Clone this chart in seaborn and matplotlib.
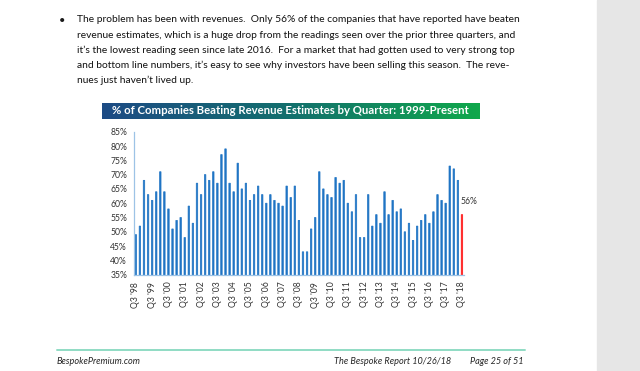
import matplotlib
matplotlib.use("Agg")
import matplotlib.pyplot as plt
import seaborn as sns
import pandas as pd
import numpy as np
from matplotlib.colors import LinearSegmentedColormap
from matplotlib.lines import Line2D
from matplotlib.patches import Rectangle

# % of companies beating revenue estimates, one bar per quarter Q3 '98 .. Q3 '18
beat_pct = [49, 52, 68, 63, 61, 64, 71, 64, 58, 51,
            54, 55, 48, 59, 53, 67, 63, 70, 68, 71,
            67, 77, 79, 67, 64, 74, 65, 67, 61, 63,
            66, 63, 60, 63, 61, 60, 59, 66, 62, 66,
            54, 43, 43, 51, 55, 71, 65, 63, 62, 69,
            67, 68, 60, 57, 63, 48, 48, 63, 52, 56,
            53, 64, 56, 61, 57, 58, 50, 53, 47, 52,
            54, 56, 53, 57, 63, 61, 60, 73, 72, 68,
            56]
tick_labels = ["Q3 '98", "Q3 '99", "Q3 '00", "Q3 '01", "Q3 '02", "Q3 '03", "Q3 '04",
               "Q3 '05", "Q3 '06", "Q3 '07", "Q3 '08", "Q3 '09", "Q3 '10", "Q3 '11",
               "Q3 '12", "Q3 '13", "Q3 '14", "Q3 '15", "Q3 '16", "Q3 '17", "Q3 '18"]

paragraph = [
    "The problem has been with revenues.  Only 56% of the companies that have reported have beaten",
    "revenue estimates, which is a huge drop from the readings seen over the prior three quarters, and",
    "it\u2019s the lowest reading seen since late 2016.  For a market that had gotten used to very strong top",
    "and bottom line numbers, it\u2019s easy to see why investors have been selling this season.  The reve-",
    "nues just haven\u2019t lived up.",
]

sns.set_style("white")
plt.rcParams['font.family'] = ['Lato', 'DejaVu Sans']

W, H = 640, 371
fig = plt.figure(figsize=(6.4, 3.71), dpi=100)
fig.patch.set_facecolor("white")


def fx(x):
    return x / W


def fy(y):
    return 1 - y / H


# grey margin on the right
fig.patches.append(Rectangle((fx(597), 0), 1 - fx(597), 1, transform=fig.transFigure,
                             color="#e6e6e6", zorder=0))

# paragraph text
fig.text(fx(62), fy(20), "\u2022", fontsize=8, color="#1a1a1a", va="center", ha="center")
for i, line in enumerate(paragraph):
    fig.text(fx(77), fy(20 + 15 * i), line, fontsize=7.4, color="#111111", va="center")

# title banner with a blue -> green gradient
bax = fig.add_axes([fx(102), fy(119), fx(479) - fx(102), (119 - 103) / H])
cmap = LinearSegmentedColormap.from_list("banner", ["#1d4b85", "#13706d", "#0fa84b"])
bax.imshow(np.linspace(0, 1, 256).reshape(1, -1), aspect="auto", cmap=cmap,
           extent=[0, 1, 0, 1])
bax.set_axis_off()
bax.text(0.5, 0.5, "% of Companies Beating Revenue Estimates by Quarter: 1999-Present",
         color="white", fontweight="bold", fontsize=8.2, ha="center", va="center",
         transform=bax.transAxes)

# bar chart
df = pd.DataFrame({"q": np.arange(len(beat_pct)), "pct": beat_pct})
colors = ["#1f74c4"] * (len(beat_pct) - 1) + ["#ff1a1a"]
ax = fig.add_axes([fx(134), fy(274.7), fx(464) - fx(134), (274.7 - 131.7) / H])
sns.barplot(data=df, x="q", y="pct", hue="q", palette=colors, legend=False,
            width=0.36, saturation=1, ax=ax, snap=False, linewidth=0.5)
for bar, c in zip(ax.patches, colors):
    bar.set_edgecolor(c)
ax.set_ylim(35, 85)
ax.set_xlim(-0.45, 80.5)
ax.set_yticks(range(35, 86, 5))
ax.set_yticklabels([f"{v}%" for v in range(35, 86, 5)], fontsize=6.2, color="#333333")
ax.set_xticks(range(0, len(beat_pct), 4))
ax.set_xticklabels(tick_labels, rotation=90, fontsize=6.2, color="#333333")
ax.tick_params(length=0, pad=5)
ax.set_xlabel("")
ax.set_ylabel("")
for s in ["top", "right"]:
    ax.spines[s].set_visible(False)
for s in ["left", "bottom"]:
    ax.spines[s].set_color("#9dc3e6")
    ax.spines[s].set_linewidth(0.9)
ax.text(len(beat_pct) - 1 + 1.7, beat_pct[-1] + 4.5, f"{beat_pct[-1]}%",
        fontsize=6.2, color="#333333", ha="center", va="center")

# footer
fig.add_artist(Line2D([fx(57), fx(525)], [fy(350), fy(350)], color="#8fdcc4", lw=1.4))
fig.text(fx(57), fy(361), "BespokePremium.com", fontsize=6.6, style="italic",
         color="#262626", va="center")
fig.text(fx(334), fy(361), "The Bespoke Report 10/26/18", fontsize=6.6, style="italic",
         color="#262626", va="center")
fig.text(fx(523), fy(361), "Page 25 of 51", fontsize=6.6, style="italic",
         color="#262626", va="center", ha="right")

fig.savefig("out.png", dpi=100)
